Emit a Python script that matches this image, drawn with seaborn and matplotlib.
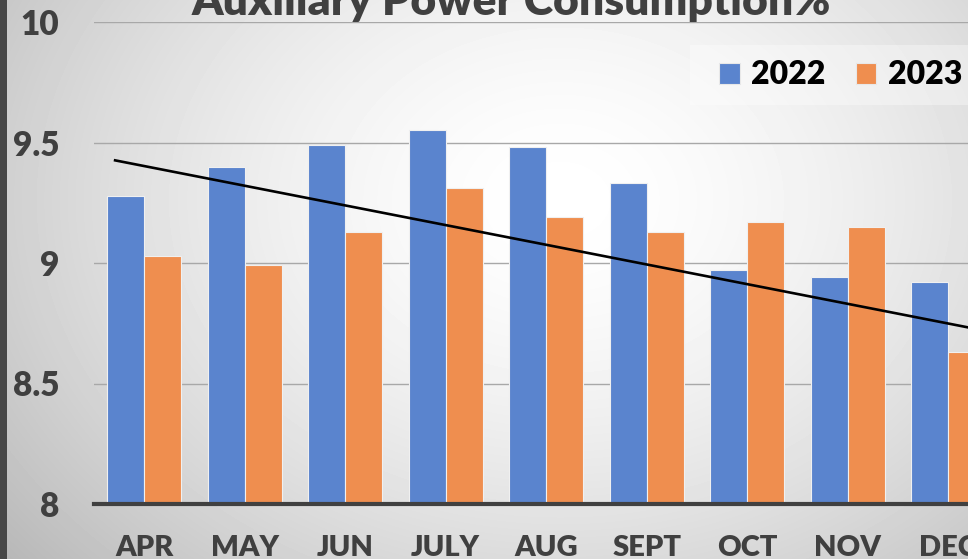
import seaborn as sns
import pandas as pd
import numpy as np
import matplotlib.pyplot as plt
from matplotlib.patches import Patch, Rectangle

months = ["APR", "MAY", "JUN", "JULY", "AUG", "SEPT", "OCT", "NOV", "DEC"]
apc_2022 = [9.28, 9.40, 9.49, 9.55, 9.48, 9.33, 8.97, 8.94, 8.92]
apc_2023 = [9.03, 8.99, 9.13, 9.31, 9.19, 9.13, 9.17, 9.15, 8.63]
# straight trend line, one value per month
trend = [9.40, 9.32, 9.24, 9.16, 9.08, 8.99, 8.91, 8.83, 8.75]
years = ["2022", "2023"]
colors = {"2022": "#5A84CE", "2023": "#EF8E4F"}

df = pd.DataFrame({
    "Month": months * 2,
    "Year": np.repeat(years, len(months)),
    "APC": apc_2022 + apc_2023,
})

plt.rcParams["font.family"] = ["Lato", "DejaVu Sans"]
plt.rcParams["font.weight"] = "heavy"

W, H = 968, 559
fig = plt.figure(figsize=(W / 100, H / 100), dpi=100)

# radial grey background like the Excel chart area
bg = fig.add_axes([0, 0, 1, 1], zorder=-10)
yy, xx = np.mgrid[0:H, 0:W]
r = np.sqrt(((xx - 560) / 620) ** 2 + ((yy - 200) / 480) ** 2)
bg.imshow(1 - 0.22 * np.clip(r, 0, 1.2) ** 1.6, cmap="gray", vmin=0, vmax=1,
          aspect="auto", interpolation="bilinear")
bg.axis("off")

# plot area is wider than the crop: 12 months, only 9 visible
ax = fig.add_axes([94 / W, 55 / H, 1206 / W, 482 / H])
ax.set_facecolor("none")
sns.barplot(data=df, x="Month", y="APC", hue="Year", order=months,
            hue_order=years, palette=colors, width=0.74, saturation=1,
            edgecolor="#f0f0f0", linewidth=0.8, legend=False, ax=ax, zorder=2)

xs = np.arange(len(months))
k, b = np.polyfit(xs, trend, 1)
xt = np.array([-0.29, 11])
ax.plot(xt, k * xt + b, color="black", lw=1.9, zorder=3)

ax.set_xlim(-0.5, 11.5)
ax.set_ylim(8, 10)
ax.set_yticks([8, 8.5, 9, 9.5, 10])
ax.set_yticklabels(["8", "8.5", "9", "9.5", "10"])
ax.yaxis.grid(True, color="#a8a8a8", lw=1, zorder=0)
ax.set_axisbelow(True)
ax.set_xlabel("")
ax.set_ylabel("")
for s in ["top", "right", "left"]:
    ax.spines[s].set_visible(False)
ax.spines["bottom"].set_color("#404040")
ax.spines["bottom"].set_linewidth(3)
ax.spines["bottom"].set_zorder(4)
ax.tick_params(axis="x", length=0, pad=22, labelsize=21, labelcolor="#404040")
ax.tick_params(axis="y", length=0, pad=25, labelsize=24, labelcolor="#404040")

fig.text(192 / W, 1 - 15 / H, "Auxiliary Power Consumption%", ha="left",
         va="baseline", fontsize=32, fontweight="heavy", color="#404040")

# legend box
fig.patches.append(Rectangle((690 / W, 1 - 105 / H), 300 / W, 60 / H,
                             transform=fig.transFigure, facecolor="white",
                             alpha=0.35, edgecolor="none", zorder=-5))
handles = [Patch(facecolor=colors[y], edgecolor="#e8e8e8", lw=0.8) for y in years]
fig.legend(handles, years, loc="center left", bbox_to_anchor=(719 / W, 1 - 75 / H),
           ncol=2, frameon=False, borderpad=0, borderaxespad=0,
           handlelength=0.65, handleheight=0.65, handletextpad=0.35,
           columnspacing=0.95, prop={"size": 23, "weight": "heavy"})

# dark border strip at the left edge of the crop
fig.patches.append(Rectangle((0, 0), 7 / W, 1, transform=fig.transFigure,
                             facecolor="#474747", edgecolor="none", zorder=10))

fig.savefig("out.png", dpi=100)
